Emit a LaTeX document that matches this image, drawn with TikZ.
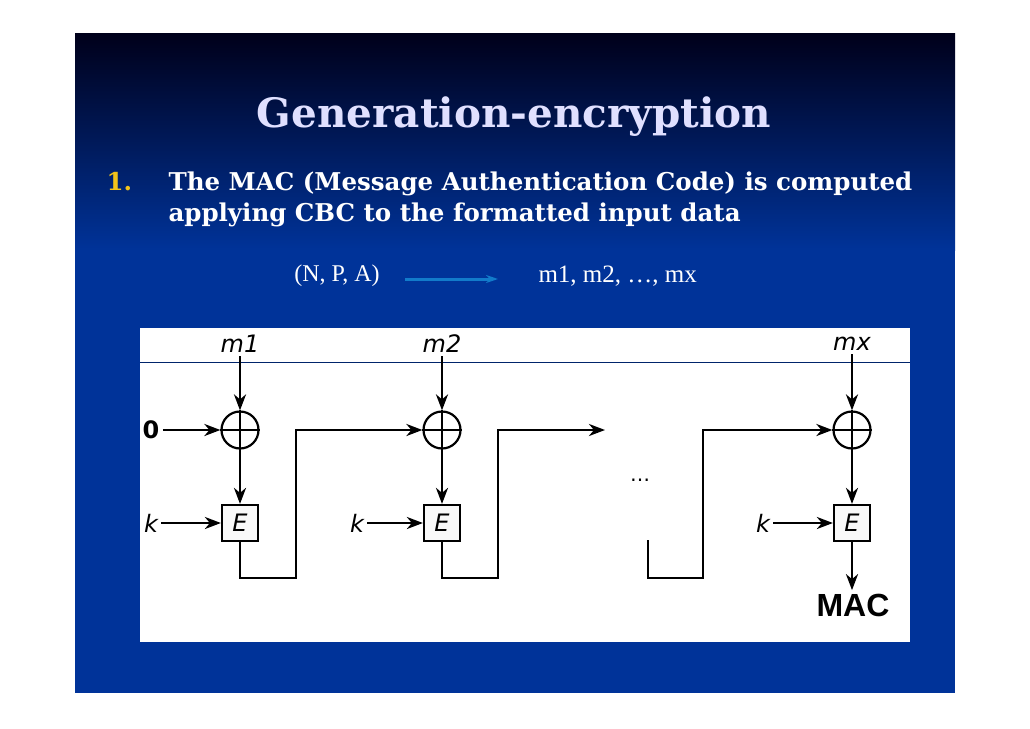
\documentclass[tikz,border=0pt]{standalone}
\usepackage{fontspec}
\setmainfont{DejaVu Serif}
\newfontfamily\timesf{Liberation Serif}
\newfontfamily\diagf{DejaVu Sans}
\newfontfamily\arialf{Liberation Sans}
\usetikzlibrary{arrows.meta}
\definecolor{slideblue}{HTML}{003399}
\definecolor{slidetop}{HTML}{00001A}
\definecolor{gold}{HTML}{F2C21A}
\tikzset{
  wire/.style={line width=2.6pt},
  arr/.style={wire,-{Stealth[length=16pt,width=12pt,inset=5pt]}},
  encbox/.style={draw,line width=2.2pt,fill=gray!5,minimum size=36pt,inner sep=0pt,font=\diagf\itshape\fontsize{24}{24}\selectfont},
  xorc/.style={draw,circle,line width=2.2pt,minimum size=37pt,inner sep=0pt},
  lbl/.style={font=\diagf\itshape\fontsize{24}{24}\selectfont},
  bodytxt/.style={white,font=\bfseries\fontsize{24.5}{24.5}\selectfont,anchor=base west},
}
\begin{document}
\begin{tikzpicture}[x=1pt,y=-1pt]
\useasboundingbox (0,0) rectangle (1030,728);
\fill[white] (0,0) rectangle (1030,728);
% slide background
\fill[slideblue] (75,33) rectangle (955,693);
\shade[top color=slidetop,bottom color=slideblue] (75,33) rectangle (955,250);
% title and text
\node[white!88!blue,font=\bfseries\fontsize{40.5}{40.5}\selectfont] (title) at (514,117) {Generation-encryption};
\node[gold,font=\bfseries\fontsize{24.5}{24.5}\selectfont,anchor=base west] (num) at (103,190) {1.};
\node[bodytxt] (line1) at (165,190) {The MAC (Message Authentication Code) is computed};
\node[bodytxt] (line2) at (165,221) {applying CBC to the formatted input data};
\node[white,font=\timesf\fontsize{24}{24}\selectfont] (npa) at (337,276) {(N, P, A)};
\node[white,font=\timesf\fontsize{25}{25}\selectfont,anchor=west] (mlist) at (535,276) {m1, m2, \dots, mx};
\draw[cyan!60!blue,line width=3pt,-{Stealth[length=12pt,width=8pt]}] (405,279) -- (498,279);
% diagram panel
\fill[white] (140,328) rectangle (910,642);
\draw[slideblue!70!black,line width=0.8pt] (140,362) -- (910,362);
% blocks
\foreach \i/\x/\m in {1/240/m1,2/442/m2,3/852/mx}{
  \node[lbl] (m\i) at (\x,344) {\m};
  \node[xorc] (x\i) at (\x,430) {};
  \draw[line width=2.2pt] (x\i.north) -- (x\i.south) (x\i.west) -- (x\i.east);
  \node[encbox] (e\i) at (\x,523) {E};
  \draw[arr] (m\i.south) -- (x\i.north);
  \draw[arr] (x\i.south) -- (e\i.north);
}
\node[font=\diagf\bfseries\fontsize{24}{24}\selectfont] (zero) at (151,430) {0};
\node[lbl] (k1) at (151,523) {k};
\node[lbl] (k2) at (357,523) {k};
\node[lbl] (k3) at (763,523) {k};
\node[font=\diagf\fontsize{20}{20}\selectfont] (dots) at (640,480) {\dots};
\node[font=\arialf\bfseries\fontsize{32}{32}\selectfont] (mac) at (853,605) {MAC};
\draw[arr] (zero) -- (x1.west);
\draw[arr] (k1) -- (e1.west);
\draw[arr] (k2) -- (e2.west);
\draw[arr] (k3) -- (e3.west);
\coordinate (gapA) at (605,430);
\coordinate (gapB) at (648,540);
\draw[arr] (e1.south) |- (296,578) |- (x2.west);
\draw[arr] (e2.south) |- (498,578) |- (gapA);
\draw[arr] (gapB) |- (703,578) |- (x3.west);
\draw[arr] (e3.south) -- (e3.south |- mac.north);
\end{tikzpicture}
\end{document}
